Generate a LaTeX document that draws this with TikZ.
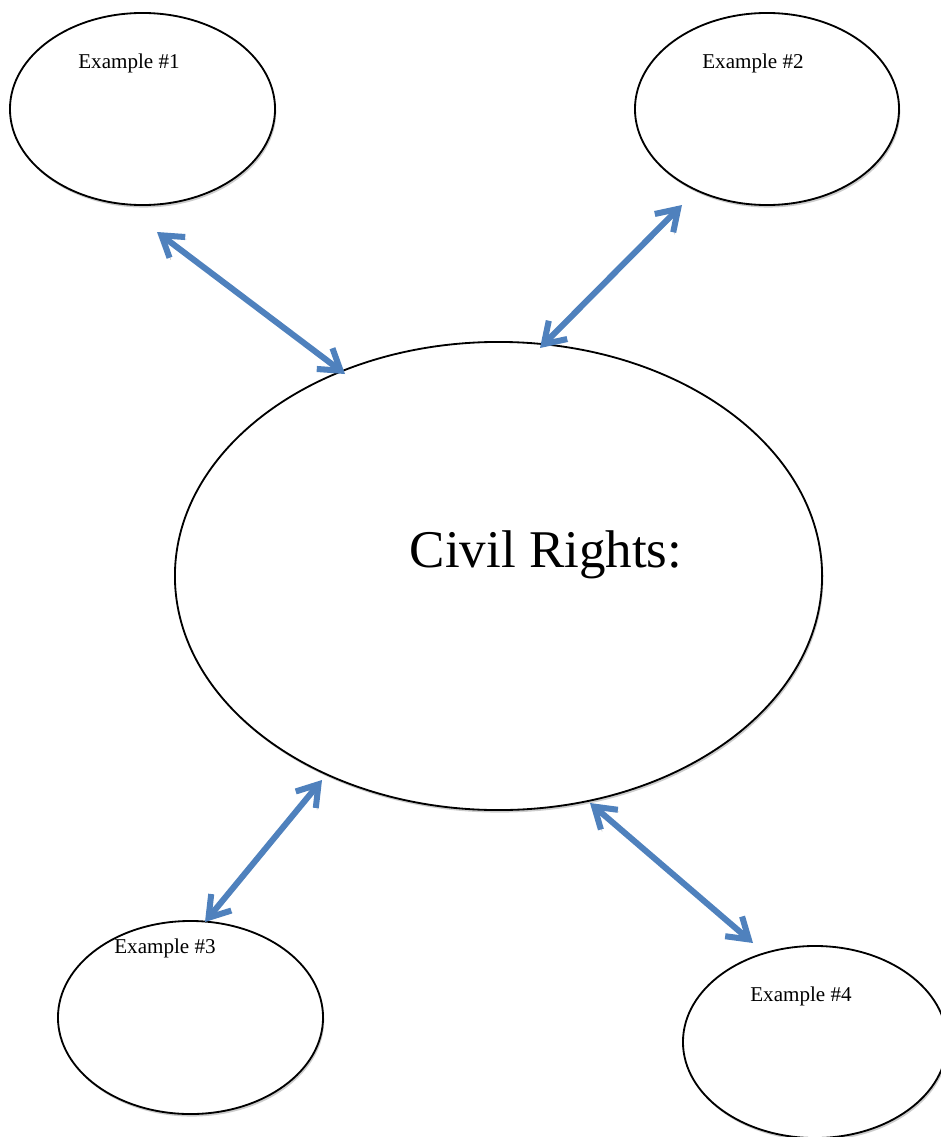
\documentclass[tikz,border=0pt]{standalone}
\usepackage{fontspec}
\setmainfont{Liberation Serif}
\usetikzlibrary{shapes.geometric,arrows.meta,shadows}
\definecolor{linkblue}{RGB}{79,129,189}

\begin{document}
\begin{tikzpicture}[x=0.025cm,y=-0.025cm,
    bubble/.style={ellipse,draw=black,line width=1.3pt,fill=white,inner sep=0pt,
        drop shadow={fill=black!20,opacity=1,shadow xshift=0.9pt,shadow yshift=-1.8pt}},
    exlabel/.style={font=\fontsize{15}{18}\selectfont},
    biglabel/.style={font=\fontsize{37.7}{45}\selectfont},
    link/.style={linkblue,line width=4.3pt,
        {Straight Barb[length=5mm,width=6.5mm]}-{Straight Barb[length=5mm,width=6.5mm]},
        preaction={draw=black!22,transform canvas={xshift=0.9pt,yshift=-1.5pt}}}]
    \useasboundingbox (0,0) rectangle (940,1137);

    % Example bubbles
    \node[bubble,minimum width=6.625cm,minimum height=4.8cm] (ex1) at (142.5,109) {};
    \node[bubble,minimum width=6.6cm,minimum height=4.8cm] (ex2) at (767,109) {};
    \node[bubble,minimum width=6.625cm,minimum height=4.825cm] (ex3) at (190.5,1017.5) {};
    \node[bubble,minimum width=6.6cm,minimum height=4.8cm] (ex4) at (815,1042) {};

    % Centre bubble
    \node[bubble,minimum width=16.175cm,minimum height=11.7cm] (civil) at (498.5,576) {};

    % Labels
    \node[exlabel] (t1) at (129,63) {Example \#1};
    \node[exlabel] (t2) at (753,63) {Example \#2};
    \node[exlabel] (t3) at (165,948) {Example \#3};
    \node[exlabel] (t4) at (801,996) {Example \#4};
    \node[biglabel] (tc) at (546,555) {Civil Rights:};

    % Arrow ends
    \coordinate (e1) at (157,232);
    \coordinate (c1) at (345,374);
    \coordinate (e2) at (682,205);
    \coordinate (c2) at (540,348);
    \coordinate (e3) at (205,922);
    \coordinate (c3) at (322,780);
    \coordinate (e4) at (753,943);
    \coordinate (c4) at (590,803);

    % Arrows
    \foreach \p/\q in {e1/c1,e2/c2,e3/c3,e4/c4} {
        \draw[link] (\p) -- (\q);
    }
\end{tikzpicture}
\end{document}
